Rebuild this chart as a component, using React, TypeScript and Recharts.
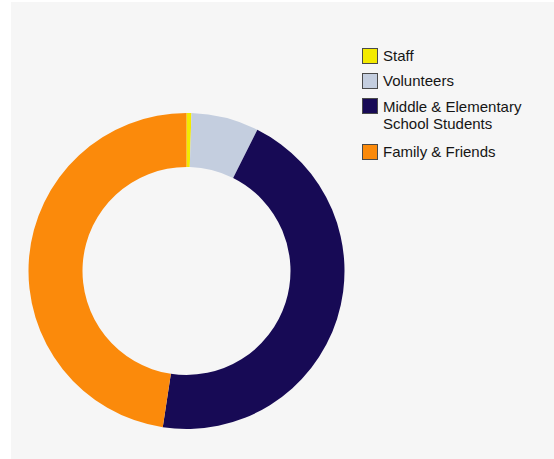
import React from "react";
import { PieChart, Pie, Cell, Legend } from "recharts";

const labels = ["Staff", "Volunteers", "Middle & Elementary School Students", "Family & Friends"];
const legendLines = [["Staff"], ["Volunteers"], ["Middle & Elementary", "School Students"], ["Family & Friends"]];
const values = [0.5, 6.9, 45.0, 47.6];
const colors = ["#f3ea00", "#c4cedf", "#170a55", "#fb8a0b"];

const data = labels.map((name, i) => ({ name, value: values[i] }));

function LegendBox() {
  return (
    <div style={{ fontFamily: "Liberation Sans, Arial, sans-serif", fontSize: 15, color: "#151515" }}>
      {legendLines.map((lines, i) => (
        <div
          key={i}
          style={{
            display: "flex",
            alignItems: "flex-start",
            marginBottom: lines.length > 1 ? 12 : 9,
          }}
        >
          <div
            style={{
              width: 14,
              height: 14,
              background: colors[i],
              border: "1px solid #4a4a4a",
              marginRight: 5,
              flexShrink: 0,
            }}
          />
          <div style={{ lineHeight: lines.length > 1 ? "17px" : "16px", whiteSpace: "nowrap" }}>
            {lines.map((l) => (
              <div key={l}>{l}</div>
            ))}
          </div>
        </div>
      ))}
    </div>
  );
}

export default function App() {
  return (
    <div style={{ position: "absolute", left: 0, top: 0, width: 554, height: 459, background: "#fff" }}>
      <div style={{ position: "absolute", left: 11, top: 2, width: 543, height: 457, background: "#f6f6f6" }} />
      <div style={{ position: "absolute", left: 0, top: 0 }}>
        <PieChart width={554} height={459} margin={{ top: 0, right: 0, bottom: 0, left: 0 }}>
          <Pie
            data={data}
            dataKey="value"
            nameKey="name"
            cx={186.5}
            cy={271}
            innerRadius={104}
            outerRadius={158}
            startAngle={90}
            endAngle={-270}
            stroke="none"
            isAnimationActive={false}
          >
            {data.map((d, i) => (
              <Cell key={d.name} fill={colors[i]} />
            ))}
          </Pie>
          <Legend
            content={() => <LegendBox />}
            wrapperStyle={{ position: "absolute", left: 362, top: 48, width: 190 }}
          />
        </PieChart>
      </div>
    </div>
  );
}
